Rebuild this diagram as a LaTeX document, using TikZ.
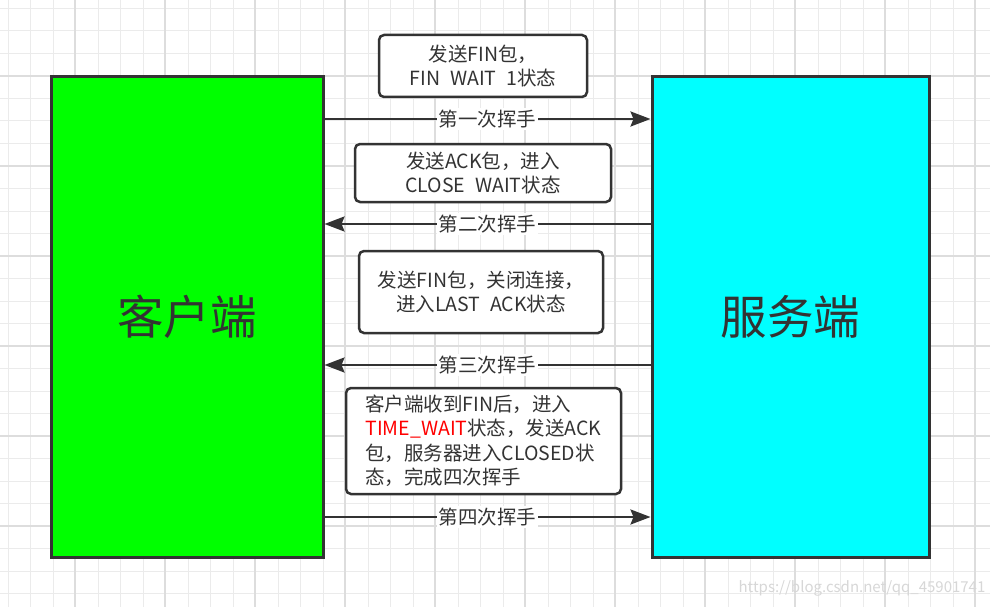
\documentclass[tikz,border=0pt]{standalone}
\usepackage{fontspec}
\setmainfont{Noto Sans CJK SC}
\usetikzlibrary{arrows.meta}
\definecolor{ink}{HTML}{333333}
\definecolor{gridminor}{HTML}{EBEBEB}
\definecolor{gridmajor}{HTML}{DDDDDD}
\tikzset{
  big/.style={draw=ink, line width=3pt, font=\fontsize{46.5}{52}\selectfont, text=ink},
  msgbox/.style={draw=ink, line width=2.5pt, rounded corners=5pt, fill=white, text=ink,
    font=\fontsize{19.5}{23.5}\selectfont, align=center},
  arr/.style={draw=ink, line width=2.5pt, -{Stealth[length=20pt,width=15pt,inset=3pt]}},
  lbl/.style={fill=white, text=ink, font=\fontsize{19.5}{22}\selectfont, inner sep=1.5pt},
}
\begin{document}
\begin{tikzpicture}[x=1pt,y=-1pt]
\useasboundingbox (0,0) rectangle (990,607);
\fill[white] (0,0) rectangle (990,607);
% grid
\foreach \i in {0,...,44} {
  \draw[gridminor, line width=1pt] (8+22.5*\i,0) -- (8+22.5*\i,607);
}
\foreach \i in {0,...,27} {
  \draw[gridminor, line width=1pt] (0,8.5+22.5*\i) -- (990,8.5+22.5*\i);
}
\foreach \i in {-1,...,10} {
  \draw[gridmajor, line width=1.2pt] (75+90*\i,0) -- (75+90*\i,607);
}
\foreach \i in {0,...,6} {
  \draw[gridmajor, line width=1.2pt] (0,76+90*\i) -- (990,76+90*\i);
}
% main boxes
\node[big, fill={rgb,255:red,0;green,255;blue,0}, minimum width=272pt, minimum height=480pt] (client) at (187,317) {客户端};
\node[big, fill={rgb,255:red,0;green,255;blue,255}, minimum width=277pt, minimum height=480pt] (server) at (790.5,317) {服务端};
% message boxes
\node[msgbox, minimum width=208pt, minimum height=62pt] (m1) at (483,66) {发送FIN包，\\FIN\hspace{0.5em}WAIT\hspace{0.5em}1状态};
\node[msgbox, minimum width=256pt, minimum height=58pt] (m2) at (483,173) {发送ACK包，进入\\CLOSE\hspace{0.5em}WAIT状态};
\node[msgbox, minimum width=244pt, minimum height=82pt] (m3) at (481,292) {发送FIN包，关闭连接，\\进入LAST\hspace{0.5em}ACK状态};
\node[msgbox, minimum width=275pt, minimum height=106pt, align=left, font=\fontsize{19.5}{24.5}\selectfont] (m4) at (483.5,441) {客户端收到FIN后，进入\\\textcolor{red}{TIME\_WAIT}状态，发送ACK\\包，服务器进入CLOSED状\\态，完成四次挥手};
% arrows
\coordinate (y1) at (0,119);
\coordinate (y2) at (0,224);
\coordinate (y3) at (0,365);
\coordinate (y4) at (0,517);
\draw[arr] (client.east |- y1) -- node[lbl, pos=0.5] {第一次挥手} (server.west |- y1);
\draw[arr] (server.west |- y2) -- node[lbl, pos=0.5] {第二次挥手} (client.east |- y2);
\draw[arr] (server.west |- y3) -- node[lbl, pos=0.5] {第三次挥手} (client.east |- y3);
\draw[arr] (client.east |- y4) -- node[lbl, pos=0.5] {第四次挥手} (server.west |- y4);
% watermark
\node[text={rgb,255:red,215;green,215;blue,215}, font=\fontsize{15}{17}\selectfont] (wm) at (862,588) {https://blog.csdn.net/qq\_45901741};
\end{tikzpicture}
\end{document}
